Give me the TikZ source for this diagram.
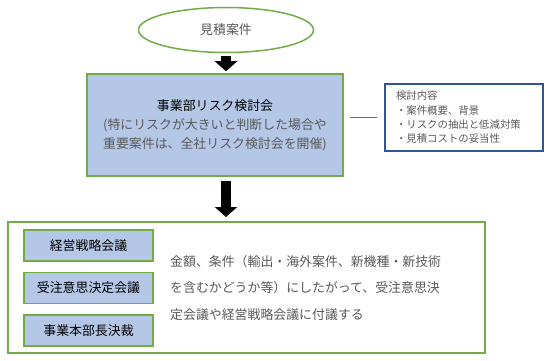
\documentclass[tikz,border=0pt]{standalone}
\usepackage{fontspec}
\setmainfont{Noto Sans CJK JP}
\usetikzlibrary{shapes.geometric,arrows.meta,positioning,calc}
\definecolor{paleBlue}{RGB}{180,199,231}
\definecolor{leafGreen}{RGB}{112,173,71}
\definecolor{lineBlue}{RGB}{68,114,196}
\definecolor{navyBlue}{RGB}{47,85,151}
\definecolor{textGray}{RGB}{89,89,89}

\begin{document}
\begin{tikzpicture}[x=1pt, y=-1pt,
        every node/.style={font=\fontsize{12.9}{19}\selectfont, align=center, inner sep=0pt},
        bluebox/.style={draw=leafGreen, line width=1.5pt, fill=paleBlue},
        meetingbox/.style={bluebox, minimum width=129pt, minimum height=31pt},
        downarrow/.style={line width=10pt, draw=black, -{Triangle[length=10pt, width=22pt]}}]
        \useasboundingbox (0,0) rectangle (549,361);
        \node[ellipse, draw=leafGreen, line width=1.5pt, minimum width=175pt, minimum height=45pt,
            text=textGray] (estimate) at (226,30) {見積案件};
        \node[bluebox, minimum width=256pt, minimum height=102pt, text=textGray] (review) at (215,125)
            {{\color{black}事業部リスク検討会}\\(特にリスクが大きいと判断した場合や\\重要案件は、全社リスク検討会を開催)};
        \node[draw=navyBlue, line width=1.3pt, text width=136pt, inner xsep=11pt, minimum height=67pt,
            align=left, text=textGray, font=\fontsize{10.4}{14.3}\selectfont] (topics) at (464,117.5)
            {検討内容\\・案件概要、背景\\・リスクの抽出と低減対策\\・見積コストの妥当性};
        \node[draw=leafGreen, line width=2pt, minimum width=477pt, minimum height=131pt] (approval) at (246.5,287.5) {};
        \node[meetingbox] (strategy) at (88.5,245.5) {経営戦略会議};
        \node[meetingbox, below=10pt of strategy] (order) {受注意思決定会議};
        \node[meetingbox, below=10pt of order] (division) {事業本部長決裁};
        \node[anchor=west, align=left, text=textGray, font=\fontsize{12.9}{26.5}\selectfont] (rule) at (170,288)
            {金額、条件（輸出・海外案件、新機種・新技術\\を含むかどうか等）にしたがって、受注意思決\\定会議や経営戦略会議に付議する};
        % connectors
        \draw[downarrow, shorten <=3pt, shorten >=2pt] (estimate.south) -- (estimate.south |- review.north);
        \draw[downarrow, shorten <=4pt, shorten >=4pt] (review.south -| estimate) -- (estimate |- approval.north);
        \draw[lineBlue, line width=1.5pt, shorten <=6pt, shorten >=7pt] (review.east |- topics.west) -- (topics.west);
    \end{tikzpicture}
\end{document}
